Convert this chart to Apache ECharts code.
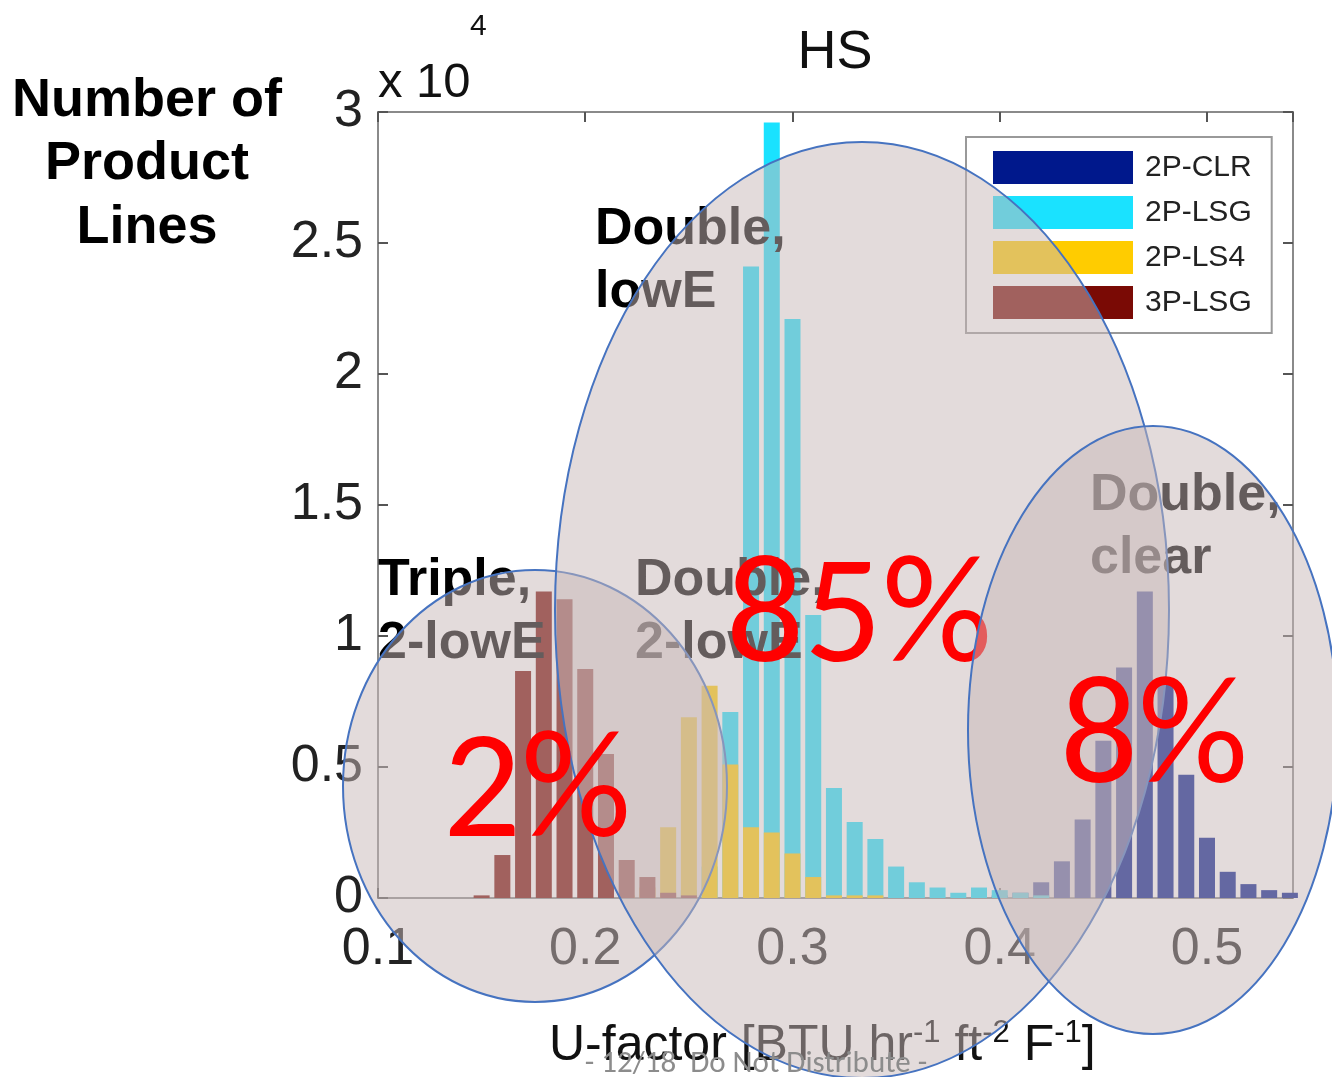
<!DOCTYPE html>
<html>
<head>
<meta charset="utf-8">
<script src="https://cdn.jsdelivr.net/npm/echarts@6/dist/echarts.min.js"></script>
<style>
html, body { margin: 0; padding: 0; background: #fff; }
#chart { width: 1332px; height: 1077px; }
</style>
</head>
<body>
<div id="chart"></div>
<script>
// U-factor bin centres
var uBins = [0.15, 0.16, 0.17, 0.18, 0.19, 0.20, 0.21, 0.22, 0.23, 0.24,
             0.25, 0.26, 0.27, 0.28, 0.29, 0.30, 0.31, 0.32, 0.33, 0.34,
             0.35, 0.36, 0.37, 0.38, 0.39, 0.40, 0.41, 0.42, 0.43, 0.44,
             0.45, 0.46, 0.47, 0.48, 0.49, 0.50, 0.51, 0.52, 0.53, 0.54];

// number of product lines per bin
var clr2P  = [0, 0, 0, 0, 0, 0, 0, 0, 0, 0,
              0, 0, 0, 0, 0, 0, 0, 0, 0, 0,
              0, 0, 0, 0, 0, 100, 200, 600, 1400, 3000,
              6000, 8800, 11700, 8400, 4700, 2300, 1000, 530, 300, 200];
var lsg2P  = [0, 0, 0, 0, 0, 0, 0, 0, 0, 0,
              300, 1200, 7100, 24100, 29600, 22100, 10800, 4200, 2900, 2250,
              1200, 600, 400, 200, 400, 300, 200, 100, 0, 0,
              0, 0, 0, 0, 0, 0, 0, 0, 0, 0];
var ls4_2P = [0, 0, 0, 0, 0, 0, 0, 100, 400, 2700,
              6900, 8100, 5100, 2700, 2500, 1700, 800, 100, 100, 100,
              0, 0, 0, 0, 0, 0, 0, 0, 0, 0,
              0, 0, 0, 0, 0, 0, 0, 0, 0, 0];
var lsg3P  = [100, 1640, 8660, 11700, 11400, 8740, 5500, 1450, 800, 200,
              100, 0, 0, 0, 0, 0, 0, 0, 0, 0,
              0, 0, 0, 0, 0, 0, 0, 0, 0, 0,
              0, 0, 0, 0, 0, 0, 0, 0, 0, 0];

var seriesNames  = ['2P-CLR', '2P-LSG', '2P-LS4', '3P-LSG'];
var seriesValues = [clr2P, lsg2P, ls4_2P, lsg3P];
var seriesColors = ['#00188c', '#1ae2ff', '#ffcc00', '#7a0a05'];

var narrow = '"Liberation Sans Narrow", "Liberation Sans", Arial, sans-serif';
var arial = '"Liberation Sans", Arial, sans-serif';
var slideFont = '"Carlito", Lato, sans-serif';
var bubbleFill = 'rgba(200,183,183,0.5)';
var bubbleLine = '#4673c0';

var chart = echarts.init(document.getElementById('chart'));

// histogram series, all bars drawn on top of each other
var series = seriesNames.map(function (name, k) {
    return {
        name: name,
        type: 'bar',
        barWidth: 16,
        barGap: '-100%',
        itemStyle: { color: seriesColors[k] },
        data: uBins.map(function (u, i) { return [u, seriesValues[k][i]]; })
    };
});

function boxAxis(extra) {
    var a = {
        type: 'value',
        splitLine: { show: false },
        axisLine: { onZero: false, lineStyle: { color: '#8a8a8a', width: 2 } },
        axisTick: { inside: true, length: 10, lineStyle: { color: '#555', width: 2 } }
    };
    for (var k in extra) a[k] = extra[k];
    return a;
}

function share(text, x, y, z) {
    return { type: 'text', z: z, style: { text: text, x: x, y: y,
        textVerticalAlign: 'middle', verticalAlign: 'middle',
        fontFamily: slideFont, fontSize: 154, fill: '#ff0000',
        shadowColor: 'rgba(0,0,0,0.3)', shadowBlur: 4, shadowOffsetX: 2, shadowOffsetY: 2 } };
}

function glazing(text, x, y) {
    return { type: 'text', z: 10, style: { text: text, x: x, y: y,
        textVerticalAlign: 'top', verticalAlign: 'top',
        fontFamily: arial, fontWeight: 'bold', fontSize: 52, lineHeight: 63, fill: '#000' } };
}

chart.setOption({
    animation: false,
    grid: { left: 378, right: 39, top: 112, bottom: 179 },
    legend: {
        data: seriesNames,
        orient: 'vertical',
        left: 966,
        top: 137,
        padding: [14, 20, 14, 27],
        itemWidth: 140,
        itemHeight: 33,
        itemGap: 12,
        icon: 'rect',
        selectedMode: false,
        backgroundColor: '#fff',
        borderColor: '#999',
        borderWidth: 2,
        textStyle: { fontFamily: narrow, fontSize: 30, color: '#222', padding: [0, 0, 0, 7] }
    },
    xAxis: [
        boxAxis({
            min: 0.1, max: 0.5415, interval: 0.1, position: 'bottom',
            axisLabel: {
                fontFamily: narrow, fontSize: 52, color: '#222', margin: 26,
                showMaxLabel: false,
                formatter: function (v) { return v.toFixed(1); }
            }
        }),
        boxAxis({
            min: 0.1, max: 0.5415, interval: 0.1, position: 'top',
            axisLabel: { show: false }
        })
    ],
    yAxis: [
        boxAxis({
            min: 0, max: 30000, interval: 5000, position: 'left',
            axisLabel: {
                fontFamily: narrow, fontSize: 52, color: '#222', margin: 15,
                formatter: function (v) { return String(v / 10000); }
            }
        }),
        boxAxis({
            min: 0, max: 30000, interval: 5000, position: 'right',
            axisLabel: { show: false }
        })
    ],
    series: series,
    graphic: [
        // axis texts
        { type: 'text', z: 5, style: { text: 'Number of\nProduct\nLines', x: 147, y: 69,
            textAlign: 'center', align: 'center', textVerticalAlign: 'top', verticalAlign: 'top',
            fontFamily: arial, fontWeight: 'bold', fontSize: 54, lineHeight: 63.5, fill: '#000' } },
        { type: 'text', z: 5, style: { text: 'x 10', x: 378, y: 83,
            textVerticalAlign: 'middle', verticalAlign: 'middle',
            fontFamily: narrow, fontSize: 49, fill: '#111' } },
        { type: 'text', z: 5, style: { text: '4', x: 470, y: 27,
            textVerticalAlign: 'middle', verticalAlign: 'middle',
            fontFamily: narrow, fontSize: 30, fill: '#111' } },
        { type: 'text', z: 5, style: { text: 'HS', x: 835, y: 53,
            textAlign: 'center', align: 'center', textVerticalAlign: 'middle', verticalAlign: 'middle',
            fontFamily: narrow, fontSize: 54, fill: '#111' } },
        { type: 'text', z: 5, style: { text: 'U-factor [BTU hr{s|-1} ft{s|-2} F{s|-1}]', x: 549, y: 1046,
            textVerticalAlign: 'middle', verticalAlign: 'middle',
            fontFamily: narrow, fontSize: 50, lineHeight: 56, fill: '#111',
            rich: { s: { fontFamily: narrow, fontSize: 31, verticalAlign: 'top', fill: '#111' } } } },

        // glazing labels
        glazing('Double,\nlowE', 595, 198),
        glazing('Triple,\n2-lowE', 378, 549),
        glazing('Double,\n2-lowE', 635, 549),
        glazing('Double,\nclear', 1090, 464),

        // bubbles and shares
        { type: 'ellipse', z: 20, shape: { cx: 535, cy: 786, rx: 192, ry: 216 },
            style: { fill: bubbleFill, stroke: bubbleLine, lineWidth: 2 } },
        { type: 'ellipse', z: 21, shape: { cx: 862, cy: 610, rx: 307, ry: 468 },
            style: { fill: bubbleFill, stroke: bubbleLine, lineWidth: 2 } },
        share('2%', 443, 797, 22),
        share('85%', 726, 622, 22),
        { type: 'ellipse', z: 23, shape: { cx: 1153, cy: 730, rx: 185, ry: 304 },
            style: { fill: bubbleFill, stroke: bubbleLine, lineWidth: 2 } },
        share('8%', 1060, 743, 24),

        // slide footer
        { type: 'text', z: 30, style: { text: '- 12/18  Do Not Distribute -', x: 756, y: 1064,
            textAlign: 'center', align: 'center', textVerticalAlign: 'middle', verticalAlign: 'middle',
            fontFamily: slideFont, fontSize: 31, fill: '#8c8c8c' } }
    ]
});
</script>
</body>
</html>
